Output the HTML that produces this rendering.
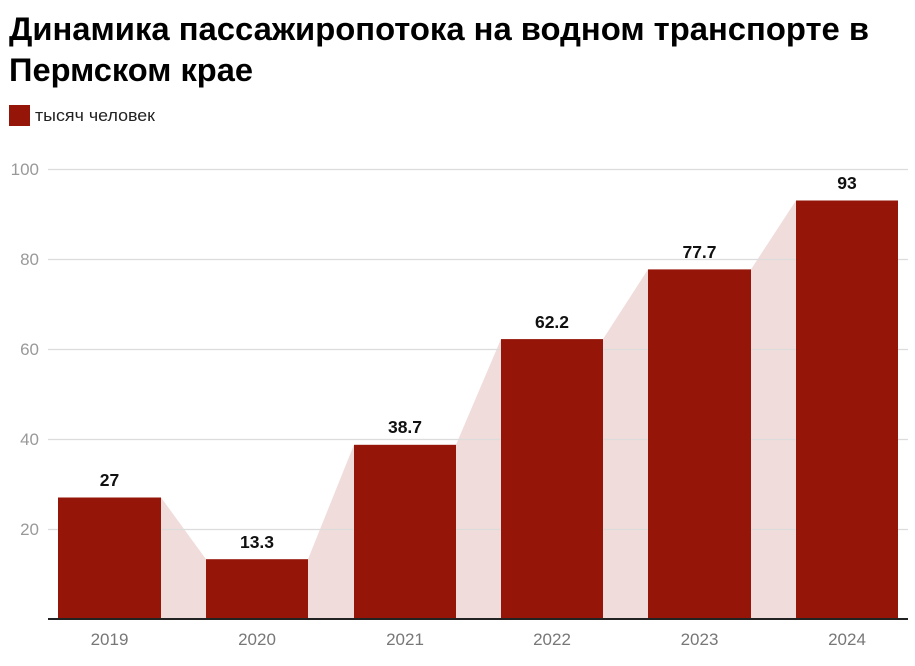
<!DOCTYPE html>
<html><head><meta charset="utf-8"><style>
body{margin:0;background:#fff;width:915px;height:661px;overflow:hidden;font-family:"Liberation Sans",sans-serif}
</style></head><body>
<svg width="915" height="661" xmlns="http://www.w3.org/2000/svg" font-family="Liberation Sans, sans-serif">
<text x="9" y="40" font-size="32.5" font-weight="bold" fill="#000" textLength="860" lengthAdjust="spacingAndGlyphs">Динамика пассажиропотока на водном транспорте в</text>
<text x="9" y="81" font-size="32.5" font-weight="bold" fill="#000" textLength="244" lengthAdjust="spacingAndGlyphs">Пермском крае</text>
<rect x="9" y="105" width="21" height="21" fill="#951509"/>
<text x="35" y="121" font-size="17" fill="#222" textLength="120" lengthAdjust="spacingAndGlyphs">тысяч человек</text>
<g fill="#f0dcdb">
<polygon points="161,497.5 206,559.2 206,619 161,619"/>
<polygon points="308,559.2 354,444.8 354,619 308,619"/>
<polygon points="456,444.8 501,339.1 501,619 456,619"/>
<polygon points="603,339.1 648,269.4 648,619 603,619"/>
<polygon points="751,269.4 796,200.5 796,619 751,619"/>
</g>
<g stroke="#dcdcdc" stroke-width="1.2">
<line x1="48" x2="908" y1="169.5" y2="169.5"/>
<line x1="48" x2="908" y1="259.5" y2="259.5"/>
<line x1="48" x2="908" y1="349.5" y2="349.5"/>
<line x1="48" x2="908" y1="439.5" y2="439.5"/>
<line x1="48" x2="908" y1="529.5" y2="529.5"/>
</g>
<g font-size="17" fill="#999" text-anchor="end">
<text x="39" y="175">100</text><text x="39" y="265">80</text><text x="39" y="355">60</text>
<text x="39" y="445">40</text><text x="39" y="535">20</text>
</g>
<g fill="#951509">
<rect x="58" y="497.5" width="103" height="121.5"/>
<rect x="206" y="559.2" width="102" height="59.8"/>
<rect x="354" y="444.8" width="102" height="174.2"/>
<rect x="501" y="339.1" width="102" height="279.9"/>
<rect x="648" y="269.4" width="103" height="349.6"/>
<rect x="796" y="200.5" width="102" height="418.5"/>
</g>
<line x1="48" x2="908" y1="619" y2="619" stroke="#222" stroke-width="2"/>
<g font-size="17.5" font-weight="bold" fill="#111" text-anchor="middle">
<text x="109.5" y="486">27</text><text x="257" y="548">13.3</text><text x="405" y="433">38.7</text>
<text x="552" y="328">62.2</text><text x="699.5" y="258">77.7</text><text x="847" y="189">93</text>
</g>
<g font-size="17" fill="#777" text-anchor="middle">
<text x="109.5" y="645">2019</text><text x="257" y="645">2020</text><text x="405" y="645">2021</text>
<text x="552" y="645">2022</text><text x="699.5" y="645">2023</text><text x="847" y="645">2024</text>
</g>
</svg>
</body></html>
